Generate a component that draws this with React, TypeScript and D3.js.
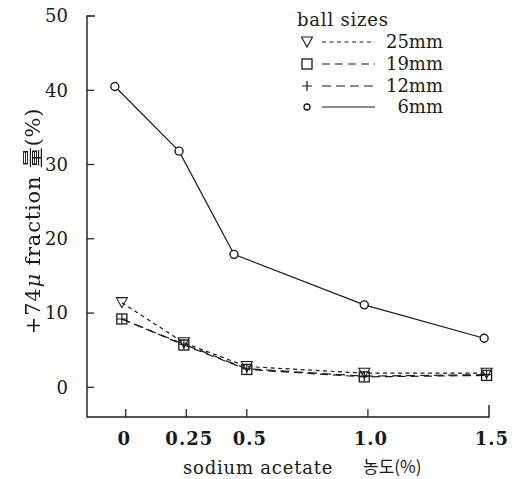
import React from "react";
import * as d3 from "d3";

const W = 517;
const H = 479;

const seriesNames = ["25mm", "19mm", "12mm", "6mm"];
const xSmall = [-0.016, 0.24, 0.5, 0.985, 1.49];
const x6mm = [-0.045, 0.22, 0.447, 0.985, 1.48];
const v25 = [11.4, 6.0, 2.8, 1.9, 1.9];
const v19 = [9.2, 5.7, 2.4, 1.4, 1.6];
const v12 = [9.2, 5.8, 2.5, 1.5, 1.7];
const v6 = [40.5, 31.8, 17.9, 11.1, 6.6];

const xTicks = [0, 0.25, 0.5, 1.0, 1.5];
const xTickLabels = ["0", "0.25", "0.5", "1.0", "1.5"];
const yTicks = [0, 10, 20, 30, 40, 50];
const yTickLabels = ["0", "10", "20", "30", "40", "50"];

const SERIF = "DejaVu Serif";
const CJK = "Noto Sans CJK KR";
const CJK_HAN = "Noto Sans CJK SC";
const INK = "#1a1a1a";

export default function App() {
  const x = d3.scaleLinear().domain([-0.16, 1.5]).range([87, 489]);
  const y = d3.scaleLinear().domain([-4, 50]).range([417, 16]);

  const line = d3
    .line<[number, number]>()
    .x((d) => x(d[0]))
    .y((d) => y(d[1]));

  const zip = (xs: number[], vs: number[]) =>
    xs.map((xx, i) => [xx, vs[i]] as [number, number]);

  const series = [
    { name: seriesNames[0], pts: zip(xSmall, v25), dash: "4,3.5", marker: "tri" },
    { name: seriesNames[1], pts: zip(xSmall, v19), dash: "8,5", marker: "sq" },
    { name: seriesNames[2], pts: zip(xSmall, v12), dash: "9,5", marker: "plus" },
    { name: seriesNames[3], pts: zip(x6mm, v6), dash: "", marker: "circ" },
  ];

  const marker = (kind: string, cx: number, cy: number, key: string) => {
    if (kind === "circ")
      return <circle key={key} cx={cx} cy={cy} r={4} fill="white" stroke={INK} strokeWidth={1.4} />;
    if (kind === "sq")
      return <rect key={key} x={cx - 5} y={cy - 5} width={10} height={10} fill="none" stroke={INK} strokeWidth={1.3} />;
    if (kind === "plus")
      return (
        <path key={key} d={`M${cx - 5},${cy}H${cx + 5}M${cx},${cy - 5}V${cy + 5}`} stroke={INK} strokeWidth={1.2} fill="none" />
      );
    return (
      <path key={key} d={`M${cx - 5.5},${cy - 5}L${cx + 5.5},${cy - 5}L${cx},${cy + 5}Z`} fill="none" stroke={INK} strokeWidth={1.1} />
    );
  };

  const legendRows = [42, 64, 86, 107];
  const serifStyle = { fontFamily: SERIF } as React.CSSProperties;
  const cjkStyle = { fontFamily: CJK } as React.CSSProperties;
  const hanStyle = { fontFamily: CJK_HAN, fill: INK } as React.CSSProperties;

  return (
    <svg
      width={W}
      height={H}
      style={{ position: "absolute", left: 0, top: 0, background: "white" }}
    >
      <defs>
        <filter id="gray" x="-10%" y="-10%" width="120%" height="120%">
          <feColorMatrix type="saturate" values="0" />
        </filter>
      </defs>
      <rect x={0} y={0} width={W} height={H} fill="white" />
      <path d={`M${x(-0.16) + 8},${y(50)}H${x(-0.16)}V${y(-4)}H${x(1.5)}V${y(-4) - 12}`} fill="none" stroke={INK} strokeWidth={1.4} />
      {yTicks.slice(0, 5).map((t) => (
        <line key={"yt" + t} x1={x(-0.16)} x2={x(-0.16) + 7} y1={y(t)} y2={y(t)} stroke={INK} strokeWidth={1.2} />
      ))}
      {xTicks.slice(0, 4).map((t) => (
        <line key={"xt" + t} x1={x(t)} x2={x(t)} y1={y(-4)} y2={y(-4) - 8} stroke={INK} strokeWidth={1.2} />
      ))}
      {yTicks.map((t, i) => (
        <text key={"yl" + t} x={68} y={y(t)} dy="0.35em" textAnchor="end" style={serifStyle} fontSize={18} fill={INK}>
          {yTickLabels[i]}
        </text>
      ))}
      {xTicks.map((t, i) => (
        <text key={"xl" + t} x={x(t) + (i === 0 ? -2 : 3)} y={445} textAnchor="middle" style={serifStyle} fontSize={18} fontWeight="bold" letterSpacing={i === 0 ? 0 : 1} fill={INK}>
          {xTickLabels[i]}
        </text>
      ))}
      <text x={183} y={474} style={serifStyle} fontSize={18} letterSpacing={0.8} fill={INK}>
        sodium acetate
      </text>
      <text x={363} y={473} style={cjkStyle} fontSize={17} fill={INK}>
        농도(%)
      </text>
      <g filter="url(#gray)">
        <text transform="translate(40,221) rotate(-90)" textAnchor="middle" style={serifStyle} fontSize={21} letterSpacing={0.8} fill={INK}>
          +74<tspan fontStyle="italic">μ</tspan> fraction <tspan style={hanStyle}>量</tspan>(%)
        </text>
      </g>
      {series.map((s) => (
        <path key={"l" + s.name} d={line(s.pts) || ""} fill="none" stroke={INK} strokeWidth={1.2} strokeDasharray={s.dash || undefined} />
      ))}
      {series.map((s) => s.pts.map((p, i) => marker(s.marker, x(p[0]), y(p[1]), s.name + i)))}
      <text x={297} y={26} style={serifStyle} fontSize={18} letterSpacing={0.8} fill={INK}>ball sizes</text>
      {series.map((s, i) => (
        <g key={"lg" + s.name}>
          {s.marker === "circ" ? (
            <circle cx={307} cy={legendRows[i]} r={3} fill="white" stroke={INK} strokeWidth={1.3} />
          ) : (
            marker(s.marker, 307, legendRows[i], "lm" + i)
          )}
          <line x1={322} x2={375} y1={legendRows[i]} y2={legendRows[i]} stroke={INK} strokeWidth={1.2} strokeDasharray={s.dash || undefined} />
          <text x={443} y={legendRows[i]} dy="0.35em" textAnchor="end" style={serifStyle} fontSize={18} fill={INK}>
            {s.name}
          </text>
        </g>
      ))}
    </svg>
  );
}
